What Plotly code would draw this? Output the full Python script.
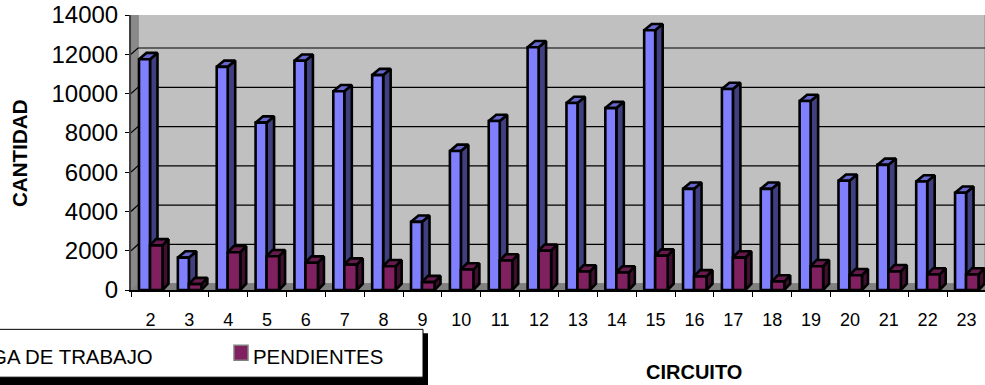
import plotly.graph_objects as go

categories = [str(i) for i in range(2, 24)]
carga = [11750, 1650, 11360, 8520, 11670, 10120, 10940, 3470, 7080, 8600, 12360,
         9520, 9260, 13220, 5150, 10230, 5150, 9620, 5560, 6370, 5520, 4950]
pendientes = [2270, 300, 1920, 1720, 1390, 1290, 1210, 400, 1040, 1500, 2000,
              940, 890, 1750, 690, 1650, 430, 1210, 750, 950, 790, 790]
y_ticks = [0, 2000, 4000, 6000, 8000, 10000, 12000, 14000]

W, H = 985, 385
L, T, B = 131, 14.5, 94.5
UNIT = 38.86
X_MAX = (W - L) / UNIT
DX = 7 / UNIT
DY = 6.3 * 14000 / (H - T - B)
BLUE_X0, BLUE_W = 8 / UNIT, 11 / UNIT
MAROON_X0, MAROON_W = 19 / UNIT, 12.5 / UNIT
BLUE_DEPTH = 7.5 / UNIT
MAROON_DEPTH = 6 / UNIT


def poly(pts):
    return [p[0] for p in pts] + [pts[0][0], None], [p[1] for p in pts] + [pts[0][1], None]


def face(polys, fill, lw=2.6, color="black"):
    xs, ys = [], []
    for p in polys:
        a, b = poly(p)
        xs += a
        ys += b
    return go.Scatter(x=xs, y=ys, mode="lines", fill="toself", fillcolor=fill,
                      line=dict(color=color, width=lw), cliponaxis=False,
                      hoverinfo="skip", showlegend=False)


def bars(vals, x0, w, depth, front, side, top):
    fr, si, to = [], [], []
    for i, v in enumerate(vals):
        a, b = i + x0, i + x0 + w
        fr.append([(a, 0), (b, 0), (b, v), (a, v)])
        si.append([(b, 0), (b + depth, DY), (b + depth, v + DY), (b, v)])
        to.append([(a, v), (b, v), (b + depth, v + DY), (a + depth, v + DY)])
    return [face(si, side), face(to, top), face(fr, front)]


fig = go.Figure()
# walls
fig.add_trace(face([[(DX, DY), (X_MAX, DY), (X_MAX, 14000 + DY), (DX, 14000 + DY)]], "#C0C0C0", 1.5, "#9a9a9a"))
fig.add_trace(face([[(0, 0), (DX, DY), (DX, 14000 + DY), (0, 14000)]], "#8a8a8a", 1, "#808080"))
fig.add_trace(face([[(0, 0), (X_MAX, 0), (X_MAX, DY), (DX, DY)]], "#808080", 1, "#808080"))
# gridlines on back wall
gx, gy = [], []
for v in y_ticks[1:-1]:
    gx += [0, DX, X_MAX, None]
    gy += [v, v + DY, v + DY, None]
fig.add_trace(go.Scatter(x=gx, y=gy, mode="lines", line=dict(color="black", width=1.2),
                         cliponaxis=False, hoverinfo="skip", showlegend=False))
for t in bars(carga, BLUE_X0, BLUE_W, BLUE_DEPTH, "#8080FF", "#404080", "#6666CC"):
    fig.add_trace(t)
for t in bars(pendientes, MAROON_X0, MAROON_W, MAROON_DEPTH, "#802060", "#401030", "#661A4D"):
    fig.add_trace(t)


def rect(x0, y0, x1, y1, fill, line=None, lw=0):
    return dict(type="rect", xref="paper", yref="paper", layer="above",
                x0=(x0 - L) / (W - L), x1=(x1 - L) / (W - L),
                y0=1 - (y0 - T) / (H - T - B), y1=1 - (y1 - T) / (H - T - B),
                fillcolor=fill, line=dict(color=line or fill, width=lw))


def note(text, x, y, size, bold=False, angle=0, anchor="center"):
    return dict(text=f"<b>{text}</b>" if bold else text, showarrow=False,
                xref="paper", yref="paper",
                x=(x - L) / (W - L), y=1 - (y - T) / (H - T - B),
                xanchor=anchor, yanchor="middle", textangle=angle,
                font=dict(family="Liberation Sans", size=size, color="black"))


shapes = [
    rect(-80, 334, 428, 386, "black"),
    rect(-80, 330, 423, 378, "white", "black", 1),
    rect(234, 346, 248, 361, "#802060", "#808080", 1.5),
    rect(-90, 346, -76, 361, "#8080FF", "#808080", 1.5),
]
annotations = [
    note("CANTIDAD", 20, 153, 20.6, True, -90),
    note("CIRCUITO", 694, 373, 20, True),
    note("CARGA DE TRABAJO", 155, 358, 20.4, anchor="right"),
    note("PENDIENTES", 251, 358, 20.4, anchor="left"),
]

fig.update_layout(
    width=W, height=H, autosize=False,
    margin=dict(l=L, r=0, t=T, b=B, pad=0),
    paper_bgcolor="white", plot_bgcolor="white",
    showlegend=False, shapes=shapes, annotations=annotations,
    font=dict(family="Liberation Sans", color="black"),
    xaxis=dict(range=[0, X_MAX], tickvals=[i + 0.5 for i in range(len(categories))],
               ticktext=categories, ticks="", showgrid=False, zeroline=False,
               showline=True, linecolor="black", linewidth=2,
               ticklabelstandoff=12, tickfont=dict(size=18),
               minor=dict(ticks="outside", tick0=0, dtick=1, ticklen=5, tickcolor="black", showgrid=False)),
    yaxis=dict(range=[0, 14000], tickvals=y_ticks, ticktext=[str(v) for v in y_ticks],
               ticks="outside", ticklen=4,
               tickcolor="black", showgrid=False, zeroline=False, showline=True,
               linecolor="#404040", linewidth=2, tickfont=dict(size=24), ticklabelstandoff=2),
)
fig.write_html("out.html", config={"displayModeBar": False},
               post_script="document.body.style.margin='0';document.documentElement.style.overflow='hidden';")
